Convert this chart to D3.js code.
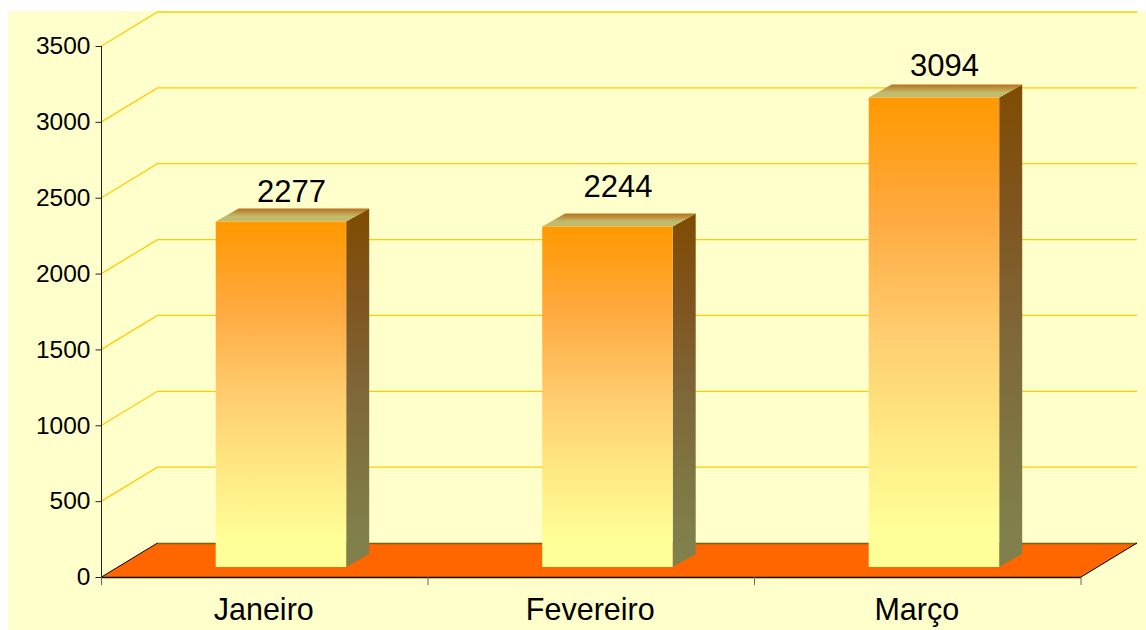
<!DOCTYPE html>
<html><head><meta charset="utf-8">
<script src="https://cdn.jsdelivr.net/npm/d3@7/dist/d3.min.js"></script>
<style>html,body{margin:0;padding:0;background:#fff}svg{display:block}text{font-family:"Liberation Sans",Arial,sans-serif;fill:#000}</style>
</head><body><svg id="c" width="1146" height="630"></svg>
<script>
const categories = ["Janeiro", "Fevereiro", "Março"];
const values = [2277, 2244, 3094];
const yTicks = [0, 500, 1000, 1500, 2000, 2500, 3000, 3500];
const labelGaps = [20, 29.5, 22];

const svg = d3.select("#c");
const x0 = 101.5, x1 = 1081, yBase = 577, yTop = 46;
const depthX = 56, depthY = -34;      // wall / floor depth
const barDX = 23, barDY = -13;        // bar depth
const lift = 10, barShift = 16.2;     // bar sits inside the floor

const y = d3.scaleLinear().domain([0, 3500]).range([yBase, yTop]);
const xb = d3.scaleBand().domain(categories).range([x0, x1]);

const defs = svg.append("defs");
function grad(id, stops) {
  const g = defs.append("linearGradient").attr("id", id).attr("x1", 0).attr("y1", 0).attr("x2", 0).attr("y2", 1);
  stops.forEach(s => g.append("stop").attr("offset", s[0]).attr("stop-color", s[1]));
}
grad("front", [[0, "#FF9900"], [0.25, "#FFA93F"], [0.5, "#FFCC6E"], [0.75, "#FFEC86"], [0.93, "#FFFF99"], [1, "#FFFF99"]]);
grad("side", [[0, "#7F4C00"], [0.25, "#7F541F"], [0.5, "#7F6637"], [0.75, "#7F7643"], [0.93, "#80804C"], [1, "#80804C"]]);
grad("top", [[0, "#B8701C"], [0.6, "#C2BA6C"], [1, "#C2BA6C"]]);

svg.append("rect").attr("x", 8).attr("y", 11).attr("width", 1138).attr("height", 619).attr("fill", "#FFFFCC");

// wall gridlines
const grid = svg.append("g").attr("fill", "none").attr("stroke", "#FFCC00").attr("stroke-width", 1.3);
yTicks.filter(d => d > 0).forEach(d => {
  grid.append("path").attr("d", d3.line()([
    [x0, y(d)], [x0 + depthX, y(d) + depthY], [x1 + depthX, y(d) + depthY]
  ]));
});

// floor
svg.append("path")
  .attr("d", d3.line()([[x0, y(0)], [x0 + depthX, y(0) + depthY], [x1 + depthX, y(0) + depthY], [x1, y(0)]]) + "Z")
  .attr("fill", "#FF6600");
svg.append("path").attr("d", d3.line()([[x0 + depthX, y(0) + depthY + 0.5], [x1 + depthX, y(0) + depthY + 0.5]]))
  .attr("stroke", "#806000").attr("stroke-width", 1.5).attr("fill", "none");
svg.append("path").attr("d", d3.line()([[x0, y(0)], [x0 + depthX, y(0) + depthY]])).attr("stroke", "#000").attr("fill", "none");
svg.append("path").attr("d", d3.line()([[x1, y(0)], [x1 + depthX, y(0) + depthY]])).attr("stroke", "#000").attr("fill", "none");

// bars
const barW = 130.5;
const bars = svg.append("g").selectAll("g").data(categories.map((c, i) => ({ c, v: values[i], gap: labelGaps[i] }))).join("g");
const bx = d => xb(d.c) + xb.bandwidth() / 2 + barShift - barW / 2;
const by = d => y(d.v) - lift;
const bb = () => y(0) - lift;
bars.append("path").attr("fill", "url(#side)").attr("d", d => d3.line()([
  [bx(d) + barW, by(d)], [bx(d) + barW + barDX, by(d) + barDY], [bx(d) + barW + barDX, bb() + barDY], [bx(d) + barW, bb()]
]) + "Z");
bars.append("path").attr("fill", "url(#top)").attr("d", d => d3.line()([
  [bx(d), by(d)], [bx(d) + barDX, by(d) + barDY], [bx(d) + barW + barDX, by(d) + barDY], [bx(d) + barW, by(d)]
]) + "Z");
bars.append("rect").attr("fill", "url(#front)").attr("x", bx).attr("y", by).attr("width", barW).attr("height", d => bb() - by(d));
bars.append("text").attr("text-anchor", "middle").attr("font-size", 31)
  .attr("x", d => bx(d) + barW / 2 + 10.5).attr("y", d => by(d) - d.gap)
  .text(d => d.v);

// y axis
const yAxis = svg.append("g").attr("transform", `translate(${x0},0)`)
  .call(d3.axisLeft(y).tickValues(yTicks).tickSize(6).tickPadding(5).tickFormat(d3.format("d")));
yAxis.select(".domain").attr("d", `M0,${yTop}V${yBase + 7}`).attr("stroke", "#222");
yAxis.selectAll("line").attr("stroke", "#222");
yAxis.selectAll("text").attr("font-size", 24.5).style("font-family", '"Liberation Sans"');

// x axis
const xAxis = svg.append("g").attr("transform", `translate(-1,${yBase})`)
  .call(d3.axisBottom(xb).tickSize(0).tickPadding(21));
xAxis.select(".domain").attr("d", `M${x0 + 1},0.5H${x1 + 1}`).attr("stroke", "#111").attr("stroke-width", 1.6);
xAxis.selectAll("text").attr("font-size", 30.5).style("font-family", '"Liberation Sans"');
const sep = svg.append("g").attr("stroke", "#667").attr("fill", "none");
[0, 1, 2, 3].forEach(i => sep.append("line")
  .attr("x1", x0 + xb.step() * i).attr("x2", x0 + xb.step() * i)
  .attr("y1", yBase).attr("y2", yBase + 8));
</script></body></html>
